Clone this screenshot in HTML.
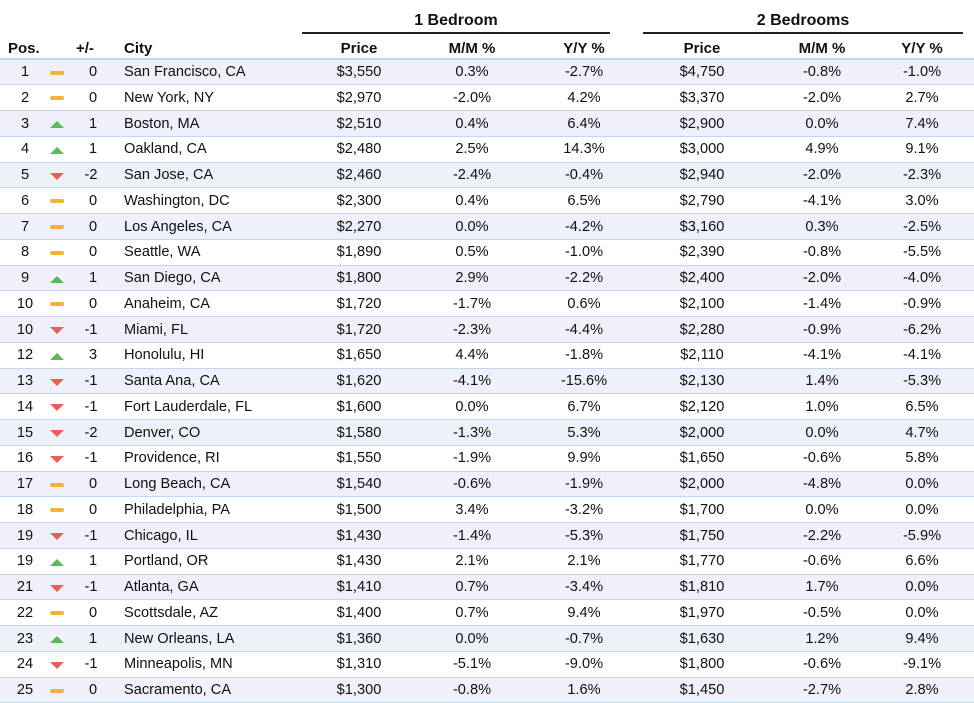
<!DOCTYPE html><html><head><style>
body{margin:0;width:974px;height:702px;background:#fff;font-family:"Liberation Sans",sans-serif;color:#111;overflow:hidden;position:relative}
.h{position:absolute;font-weight:bold;font-size:15px}
.grp{position:absolute;top:12px;font-weight:bold;font-size:16px;text-align:center}
.ul{position:absolute;top:32px;height:2px;background:#222}
.r{position:absolute;left:0;width:974px;height:25.75px;border-bottom:1.5px solid #c3d7ee;box-sizing:border-box;font-size:14.6px}
.r.o{background:#eff0fa}
.r span{position:absolute;top:4.5px;white-space:nowrap}
.c{transform:translateX(-50%)}
.ic{position:absolute;left:50px;top:10px}
.eq{width:14px;height:4px;background:#f6b13c;border-radius:2px;top:11px}
.up{width:0;height:0;border-left:7px solid transparent;border-right:7px solid transparent;border-bottom:7px solid #5cb85c}
.dn{width:0;height:0;border-left:7px solid transparent;border-right:7px solid transparent;border-top:7px solid #e5605a}
</style></head><body>
<div class="grp" style="left:302px;width:308px">1 Bedroom</div>
<div class="grp" style="left:643px;width:320px">2 Bedrooms</div>
<div class="ul" style="left:302px;width:308px"></div>
<div class="ul" style="left:643px;width:320px"></div>
<div class="h" style="left:8px;top:40px">Pos.</div>
<div class="h" style="left:76px;top:40px">+/-</div>
<div class="h" style="left:124px;top:40px">City</div>
<div class="h c" style="left:359px;top:40px">Price</div>
<div class="h c" style="left:472px;top:40px">M/M %</div>
<div class="h c" style="left:584px;top:40px">Y/Y %</div>
<div class="h c" style="left:702px;top:40px">Price</div>
<div class="h c" style="left:822px;top:40px">M/M %</div>
<div class="h c" style="left:922px;top:40px">Y/Y %</div>
<div style="position:absolute;left:0;top:58px;width:974px;height:1.5px;background:#c3d7ee"></div>
<div id="t" style="position:absolute;left:0;top:59.5px">
<div class="r o" style="top:0px"><span class="c" style="left:25px">1</span><i class="ic eq"></i><span class="c" style="left:93px">0</span><span style="left:124px">San Francisco, CA</span><span class="c" style="left:359px">$3,550</span><span class="c" style="left:472px">0.3%</span><span class="c" style="left:584px">-2.7%</span><span class="c" style="left:702px">$4,750</span><span class="c" style="left:822px">-0.8%</span><span class="c" style="left:922px">-1.0%</span></div>
<div class="r" style="top:25.75px"><span class="c" style="left:25px">2</span><i class="ic eq"></i><span class="c" style="left:93px">0</span><span style="left:124px">New York, NY</span><span class="c" style="left:359px">$2,970</span><span class="c" style="left:472px">-2.0%</span><span class="c" style="left:584px">4.2%</span><span class="c" style="left:702px">$3,370</span><span class="c" style="left:822px">-2.0%</span><span class="c" style="left:922px">2.7%</span></div>
<div class="r o" style="top:51.5px"><span class="c" style="left:25px">3</span><i class="ic up"></i><span class="c" style="left:93px">1</span><span style="left:124px">Boston, MA</span><span class="c" style="left:359px">$2,510</span><span class="c" style="left:472px">0.4%</span><span class="c" style="left:584px">6.4%</span><span class="c" style="left:702px">$2,900</span><span class="c" style="left:822px">0.0%</span><span class="c" style="left:922px">7.4%</span></div>
<div class="r" style="top:77.25px"><span class="c" style="left:25px">4</span><i class="ic up"></i><span class="c" style="left:93px">1</span><span style="left:124px">Oakland, CA</span><span class="c" style="left:359px">$2,480</span><span class="c" style="left:472px">2.5%</span><span class="c" style="left:584px">14.3%</span><span class="c" style="left:702px">$3,000</span><span class="c" style="left:822px">4.9%</span><span class="c" style="left:922px">9.1%</span></div>
<div class="r o" style="top:103px"><span class="c" style="left:25px">5</span><i class="ic dn"></i><span class="c" style="left:91px">-2</span><span style="left:124px">San Jose, CA</span><span class="c" style="left:359px">$2,460</span><span class="c" style="left:472px">-2.4%</span><span class="c" style="left:584px">-0.4%</span><span class="c" style="left:702px">$2,940</span><span class="c" style="left:822px">-2.0%</span><span class="c" style="left:922px">-2.3%</span></div>
<div class="r" style="top:128.75px"><span class="c" style="left:25px">6</span><i class="ic eq"></i><span class="c" style="left:93px">0</span><span style="left:124px">Washington, DC</span><span class="c" style="left:359px">$2,300</span><span class="c" style="left:472px">0.4%</span><span class="c" style="left:584px">6.5%</span><span class="c" style="left:702px">$2,790</span><span class="c" style="left:822px">-4.1%</span><span class="c" style="left:922px">3.0%</span></div>
<div class="r o" style="top:154.5px"><span class="c" style="left:25px">7</span><i class="ic eq"></i><span class="c" style="left:93px">0</span><span style="left:124px">Los Angeles, CA</span><span class="c" style="left:359px">$2,270</span><span class="c" style="left:472px">0.0%</span><span class="c" style="left:584px">-4.2%</span><span class="c" style="left:702px">$3,160</span><span class="c" style="left:822px">0.3%</span><span class="c" style="left:922px">-2.5%</span></div>
<div class="r" style="top:180.25px"><span class="c" style="left:25px">8</span><i class="ic eq"></i><span class="c" style="left:93px">0</span><span style="left:124px">Seattle, WA</span><span class="c" style="left:359px">$1,890</span><span class="c" style="left:472px">0.5%</span><span class="c" style="left:584px">-1.0%</span><span class="c" style="left:702px">$2,390</span><span class="c" style="left:822px">-0.8%</span><span class="c" style="left:922px">-5.5%</span></div>
<div class="r o" style="top:206px"><span class="c" style="left:25px">9</span><i class="ic up"></i><span class="c" style="left:93px">1</span><span style="left:124px">San Diego, CA</span><span class="c" style="left:359px">$1,800</span><span class="c" style="left:472px">2.9%</span><span class="c" style="left:584px">-2.2%</span><span class="c" style="left:702px">$2,400</span><span class="c" style="left:822px">-2.0%</span><span class="c" style="left:922px">-4.0%</span></div>
<div class="r" style="top:231.75px"><span class="c" style="left:25px">10</span><i class="ic eq"></i><span class="c" style="left:93px">0</span><span style="left:124px">Anaheim, CA</span><span class="c" style="left:359px">$1,720</span><span class="c" style="left:472px">-1.7%</span><span class="c" style="left:584px">0.6%</span><span class="c" style="left:702px">$2,100</span><span class="c" style="left:822px">-1.4%</span><span class="c" style="left:922px">-0.9%</span></div>
<div class="r o" style="top:257.5px"><span class="c" style="left:25px">10</span><i class="ic dn"></i><span class="c" style="left:91px">-1</span><span style="left:124px">Miami, FL</span><span class="c" style="left:359px">$1,720</span><span class="c" style="left:472px">-2.3%</span><span class="c" style="left:584px">-4.4%</span><span class="c" style="left:702px">$2,280</span><span class="c" style="left:822px">-0.9%</span><span class="c" style="left:922px">-6.2%</span></div>
<div class="r" style="top:283.25px"><span class="c" style="left:25px">12</span><i class="ic up"></i><span class="c" style="left:93px">3</span><span style="left:124px">Honolulu, HI</span><span class="c" style="left:359px">$1,650</span><span class="c" style="left:472px">4.4%</span><span class="c" style="left:584px">-1.8%</span><span class="c" style="left:702px">$2,110</span><span class="c" style="left:822px">-4.1%</span><span class="c" style="left:922px">-4.1%</span></div>
<div class="r o" style="top:309px"><span class="c" style="left:25px">13</span><i class="ic dn"></i><span class="c" style="left:91px">-1</span><span style="left:124px">Santa Ana, CA</span><span class="c" style="left:359px">$1,620</span><span class="c" style="left:472px">-4.1%</span><span class="c" style="left:584px">-15.6%</span><span class="c" style="left:702px">$2,130</span><span class="c" style="left:822px">1.4%</span><span class="c" style="left:922px">-5.3%</span></div>
<div class="r" style="top:334.75px"><span class="c" style="left:25px">14</span><i class="ic dn"></i><span class="c" style="left:91px">-1</span><span style="left:124px">Fort Lauderdale, FL</span><span class="c" style="left:359px">$1,600</span><span class="c" style="left:472px">0.0%</span><span class="c" style="left:584px">6.7%</span><span class="c" style="left:702px">$2,120</span><span class="c" style="left:822px">1.0%</span><span class="c" style="left:922px">6.5%</span></div>
<div class="r o" style="top:360.5px"><span class="c" style="left:25px">15</span><i class="ic dn"></i><span class="c" style="left:91px">-2</span><span style="left:124px">Denver, CO</span><span class="c" style="left:359px">$1,580</span><span class="c" style="left:472px">-1.3%</span><span class="c" style="left:584px">5.3%</span><span class="c" style="left:702px">$2,000</span><span class="c" style="left:822px">0.0%</span><span class="c" style="left:922px">4.7%</span></div>
<div class="r" style="top:386.25px"><span class="c" style="left:25px">16</span><i class="ic dn"></i><span class="c" style="left:91px">-1</span><span style="left:124px">Providence, RI</span><span class="c" style="left:359px">$1,550</span><span class="c" style="left:472px">-1.9%</span><span class="c" style="left:584px">9.9%</span><span class="c" style="left:702px">$1,650</span><span class="c" style="left:822px">-0.6%</span><span class="c" style="left:922px">5.8%</span></div>
<div class="r o" style="top:412px"><span class="c" style="left:25px">17</span><i class="ic eq"></i><span class="c" style="left:93px">0</span><span style="left:124px">Long Beach, CA</span><span class="c" style="left:359px">$1,540</span><span class="c" style="left:472px">-0.6%</span><span class="c" style="left:584px">-1.9%</span><span class="c" style="left:702px">$2,000</span><span class="c" style="left:822px">-4.8%</span><span class="c" style="left:922px">0.0%</span></div>
<div class="r" style="top:437.75px"><span class="c" style="left:25px">18</span><i class="ic eq"></i><span class="c" style="left:93px">0</span><span style="left:124px">Philadelphia, PA</span><span class="c" style="left:359px">$1,500</span><span class="c" style="left:472px">3.4%</span><span class="c" style="left:584px">-3.2%</span><span class="c" style="left:702px">$1,700</span><span class="c" style="left:822px">0.0%</span><span class="c" style="left:922px">0.0%</span></div>
<div class="r o" style="top:463.5px"><span class="c" style="left:25px">19</span><i class="ic dn"></i><span class="c" style="left:91px">-1</span><span style="left:124px">Chicago, IL</span><span class="c" style="left:359px">$1,430</span><span class="c" style="left:472px">-1.4%</span><span class="c" style="left:584px">-5.3%</span><span class="c" style="left:702px">$1,750</span><span class="c" style="left:822px">-2.2%</span><span class="c" style="left:922px">-5.9%</span></div>
<div class="r" style="top:489.25px"><span class="c" style="left:25px">19</span><i class="ic up"></i><span class="c" style="left:93px">1</span><span style="left:124px">Portland, OR</span><span class="c" style="left:359px">$1,430</span><span class="c" style="left:472px">2.1%</span><span class="c" style="left:584px">2.1%</span><span class="c" style="left:702px">$1,770</span><span class="c" style="left:822px">-0.6%</span><span class="c" style="left:922px">6.6%</span></div>
<div class="r o" style="top:515px"><span class="c" style="left:25px">21</span><i class="ic dn"></i><span class="c" style="left:91px">-1</span><span style="left:124px">Atlanta, GA</span><span class="c" style="left:359px">$1,410</span><span class="c" style="left:472px">0.7%</span><span class="c" style="left:584px">-3.4%</span><span class="c" style="left:702px">$1,810</span><span class="c" style="left:822px">1.7%</span><span class="c" style="left:922px">0.0%</span></div>
<div class="r" style="top:540.75px"><span class="c" style="left:25px">22</span><i class="ic eq"></i><span class="c" style="left:93px">0</span><span style="left:124px">Scottsdale, AZ</span><span class="c" style="left:359px">$1,400</span><span class="c" style="left:472px">0.7%</span><span class="c" style="left:584px">9.4%</span><span class="c" style="left:702px">$1,970</span><span class="c" style="left:822px">-0.5%</span><span class="c" style="left:922px">0.0%</span></div>
<div class="r o" style="top:566.5px"><span class="c" style="left:25px">23</span><i class="ic up"></i><span class="c" style="left:93px">1</span><span style="left:124px">New Orleans, LA</span><span class="c" style="left:359px">$1,360</span><span class="c" style="left:472px">0.0%</span><span class="c" style="left:584px">-0.7%</span><span class="c" style="left:702px">$1,630</span><span class="c" style="left:822px">1.2%</span><span class="c" style="left:922px">9.4%</span></div>
<div class="r" style="top:592.25px"><span class="c" style="left:25px">24</span><i class="ic dn"></i><span class="c" style="left:91px">-1</span><span style="left:124px">Minneapolis, MN</span><span class="c" style="left:359px">$1,310</span><span class="c" style="left:472px">-5.1%</span><span class="c" style="left:584px">-9.0%</span><span class="c" style="left:702px">$1,800</span><span class="c" style="left:822px">-0.6%</span><span class="c" style="left:922px">-9.1%</span></div>
<div class="r o" style="top:618px"><span class="c" style="left:25px">25</span><i class="ic eq"></i><span class="c" style="left:93px">0</span><span style="left:124px">Sacramento, CA</span><span class="c" style="left:359px">$1,300</span><span class="c" style="left:472px">-0.8%</span><span class="c" style="left:584px">1.6%</span><span class="c" style="left:702px">$1,450</span><span class="c" style="left:822px">-2.7%</span><span class="c" style="left:922px">2.8%</span></div>
</div>
</body></html>
